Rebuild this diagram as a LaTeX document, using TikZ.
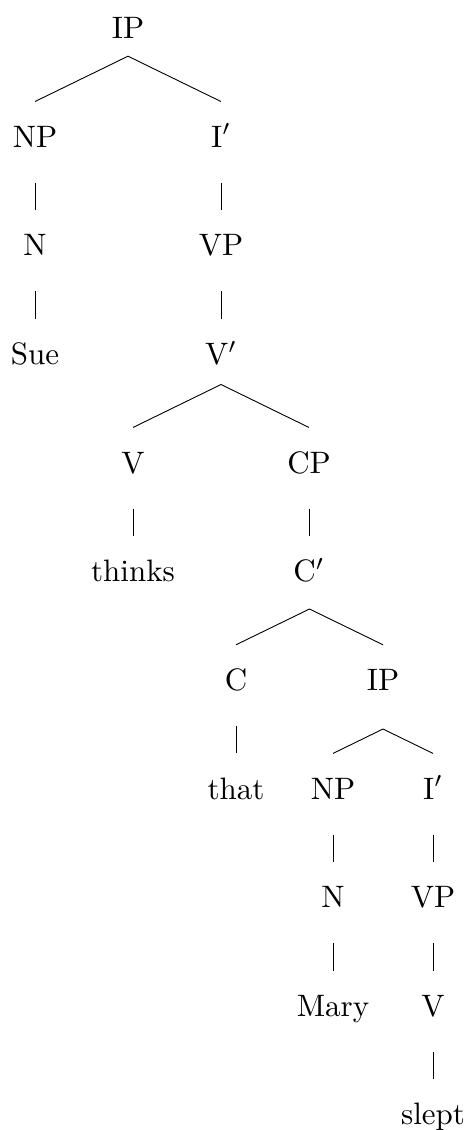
\documentclass[tikz,border=0pt]{standalone}
\usepackage{fontspec}
\usetikzlibrary{calc}
\begin{document}
\begin{tikzpicture}[x=1pt,y=-1pt,
  lbl/.style={anchor=base,inner sep=0pt,text height=14.516pt,text depth=11.29pt,
    scale=3.1,font=\fontsize{10}{12}\selectfont},
  edge/.style={draw=black,line width=0.9pt}]
\useasboundingbox (0,0) rectangle (467,1130);
% rows
\def\rA{38.5}\def\rB{147.15}\def\rC{255.8}\def\rD{364.45}\def\rE{473.1}
\def\rF{581.75}\def\rG{690.4}\def\rH{799.05}\def\rI{907.7}\def\rJ{1016.35}\def\rK{1124.5}
\node[lbl] (IPa) at (128,\rA) {IP};
\node[lbl] (NPa) at (35,\rB) {NP};
\node[lbl] (Ia) at (221,\rB) {I$'$};
\node[lbl] (Na) at (35,\rC) {N};
\node[lbl] (VPa) at (221,\rC) {VP};
\node[lbl] (sue) at (35,\rD) {Sue};
\node[lbl] (Vbar) at (221,\rD) {V$'$};
\node[lbl] (Va) at (133,\rE) {V};
\node[lbl] (CP) at (309,\rE) {CP};
\node[lbl] (thinks) at (133,\rF) {thinks};
\node[lbl] (Cbar) at (309,\rF) {C$'$};
\node[lbl] (C) at (236,\rG) {C};
\node[lbl] (IPb) at (383,\rG) {IP};
\node[lbl] (that) at (236,\rH) {that};
\node[lbl] (NPb) at (333,\rH) {NP};
\node[lbl] (Ib) at (433,\rH) {I$'$};
\node[lbl] (Nb) at (333,\rI) {N};
\node[lbl] (VPb) at (433,\rI) {VP};
\node[lbl] (mary) at (333,\rJ) {Mary};
\node[lbl] (Vb) at (433,\rJ) {V};
\node[lbl] (slept) at (433,\rK) {slept};
% apexes of branching edges
\coordinate (apA) at (128,56.2);
\coordinate (apB) at (221,384.5);
\coordinate (apC) at (309.5,609);
\coordinate (apD) at (383,729);
% branching edges
\draw[edge] (NPa.north) -- (apA) -- (Ia.north);
\draw[edge] (Va.north) -- (apB) -- (CP.north);
\draw[edge] (C.north) -- (apC) -- (IPb.north);
\draw[edge] (NPb.north) -- (apD) -- (Ib.north);
% unary edges
\draw[edge] (NPa.south) -- (Na.north);
\draw[edge] (Na.south) -- (sue.north);
\draw[edge] (Ia.south) -- (VPa.north);
\draw[edge] (VPa.south) -- (Vbar.north);
\draw[edge] (Va.south) -- (thinks.north);
\draw[edge] (CP.south) -- (Cbar.north);
\draw[edge] (C.south) -- (that.north);
\draw[edge] (NPb.south) -- (Nb.north);
\draw[edge] (Nb.south) -- (mary.north);
\draw[edge] (Ib.south) -- (VPb.north);
\draw[edge] (VPb.south) -- (Vb.north);
\draw[edge] (Vb.south) -- (slept.north);
\end{tikzpicture}
\end{document}
